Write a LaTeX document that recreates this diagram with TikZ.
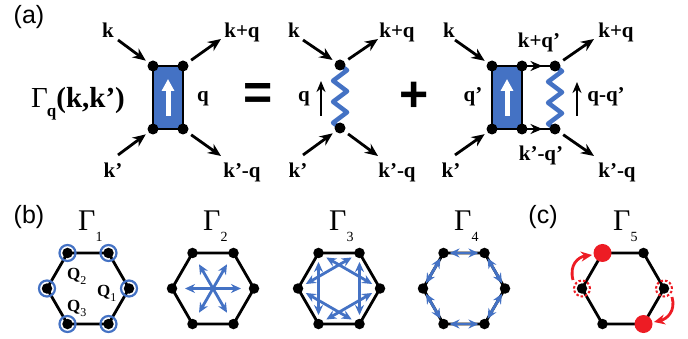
\documentclass[tikz,border=0pt]{standalone}
\usepackage{fontspec}
\setmainfont{Liberation Serif}
\newfontfamily\sansfam{Liberation Sans}
\usetikzlibrary{arrows.meta,decorations.pathmorphing,calc}
\definecolor{myblue}{RGB}{68,114,196}
\definecolor{myred}{RGB}{237,28,36}
\tikzset{
  fdot/.style={circle,fill=black,inner sep=0pt,minimum size=11pt},
  hdot/.style={circle,fill=black,inner sep=0pt,minimum size=10.5pt},
  lbl/.style={font=\fontsize{21}{21}\selectfont\bfseries,inner sep=0pt,anchor=base},
  panel/.style={font=\sansfam\fontsize{25}{25}\selectfont,inner sep=0pt},
  opsym/.style={font=\sansfam\bfseries\fontsize{50}{50}\selectfont,inner sep=0pt},
  gam/.style={font=\fontsize{30}{30}\selectfont,inner sep=0pt,anchor=base west},
  qlbl/.style={font=\fontsize{17}{17}\selectfont,inner sep=0pt,anchor=base west},
  leg/.style={line width=2.8pt,-{Stealth[length=13pt,width=11pt]}},
  vbox/.style={fill=myblue,draw=black,line width=2.8pt},
  warr/.style={white,line width=5pt,-{Triangle[length=12pt,width=12pt]}},
  wave/.style={myblue,line width=4.5pt,line join=round,decorate,decoration={zigzag,segment length=21pt,amplitude=7pt}},
  hexline/.style={draw=black,line width=2.8pt,line join=round},
  barr/.style={myblue,line width=2.8pt,{Stealth[length=10pt,width=9pt]}-{Stealth[length=10pt,width=9pt]}},
  rarr/.style={myred,line width=2.8pt,-{Stealth[length=11pt,width=10pt]}},
  plain/.style={line width=2.8pt},
}
\begin{document}
\begin{tikzpicture}[x=1pt,y=-1pt]
\useasboundingbox (0,0) rectangle (688,339);

% ---------------- panel (a) ----------------
\node[panel] (pa) at (29,17) {(a)};
\node[font=\fontsize{29}{29}\selectfont,inner sep=0pt,anchor=base west] (gq) at (31,108)
  {Γ\kern-1pt\raisebox{-0.3em}{\fontsize{17}{17}\selectfont\bfseries q}\bfseries(k,k’)};

% left vertex box
\coordinate (L1) at (153,66); \coordinate (L2) at (183,66);
\coordinate (L3) at (153,129); \coordinate (L4) at (183,129);
\draw[vbox] (L1) rectangle (L4);
\coordinate (Lw1) at (168,116); \coordinate (Lw2) at (168,79);
\draw[warr] (Lw1) -- (Lw2);
\foreach \c in {L1,L2,L3,L4} \node[fdot] (d\c) at (\c) {};
\node[lbl] (Lk) at (108,38) {k};
\node[lbl] (Lkq) at (242,38) {k+q};
\node[lbl] (Lkp) at (113,178) {k’};
\node[lbl] (Lkpq) at (242,178) {k’-q};
\node[lbl] (Lq) at (203,102) {q};
\coordinate (La) at (118,40); \coordinate (Lb) at (221,39);
\coordinate (Lc) at (118,155); \coordinate (Ld) at (221,156);
\draw[leg,shorten >=9pt] (La) -- (L1);
\draw[leg,shorten <=10pt] (L2) -- (Lb);
\draw[leg,shorten >=9pt] (Lc) -- (L3);
\draw[leg,shorten <=10pt] (L4) -- (Ld);

\node[opsym] (eq) at (258,97) {=};

% middle: wavy interaction
\coordinate (M1) at (340,65); \coordinate (M2) at (340,128);
\draw[wave] (M1) -- (M2);
\node[fdot] (dM1) at (M1) {}; \node[fdot] (dM2) at (M2) {};
\node[lbl] (Mk) at (294,38) {k};
\node[lbl] (Mkq) at (397,38) {k+q};
\node[lbl] (Mkp) at (298,178) {k’};
\node[lbl] (Mkpq) at (397,178) {k’-q};
\node[lbl] (Mq) at (304,102) {q};
\coordinate (Mqa) at (321,116); \coordinate (Mqb) at (321,81);
\draw[plain,-{Stealth[length=11pt,width=9pt]}] (Mqa) -- (Mqb);
\coordinate (Ma) at (303,40); \coordinate (Mb) at (378,39);
\coordinate (Mc) at (303,155); \coordinate (Md) at (378,156);
\draw[leg,shorten >=9pt] (Ma) -- (M1);
\draw[leg,shorten <=10pt] (M1) -- (Mb);
\draw[leg,shorten >=9pt] (Mc) -- (M2);
\draw[leg,shorten <=10pt] (M2) -- (Md);

\node[opsym] (plus) at (414,97) {+};

% right: box + wave
\coordinate (R1) at (492,66); \coordinate (R2) at (522,66);
\coordinate (R3) at (492,129); \coordinate (R4) at (522,129);
\coordinate (R5) at (555,66); \coordinate (R6) at (555,129);
\draw[vbox] (R1) rectangle (R4);
\coordinate (Rw1) at (507,116); \coordinate (Rw2) at (507,79);
\draw[warr] (Rw1) -- (Rw2);
\draw[plain] (R2) -- (R5);
\draw[plain] (R4) -- (R6);
\draw[plain,-{Stealth[length=12pt,width=10pt]}] (R2) -- ($(R2)!0.62!(R5)$);
\draw[plain,-{Stealth[length=12pt,width=10pt]}] (R4) -- ($(R4)!0.62!(R6)$);
\draw[wave] (R5) -- (R6);
\foreach \c in {R1,R2,R3,R4,R5,R6} \node[fdot] (d\c) at (\c) {};
\node[lbl] (Rk) at (449,38) {k};
\node[lbl] (Rkq) at (616,38) {k+q};
\node[lbl] (Rkp) at (451,178) {k’};
\node[lbl] (Rkpq) at (617,178) {k’-q};
\node[lbl] (Rkqp) at (539,48) {k+q’};
\node[lbl] (Rkpqp) at (541,161) {k’-q’};
\node[lbl] (Rqp) at (473,102) {q’};
\node[lbl] (Rqq) at (606,102) {q-q’};
\coordinate (Rqa) at (577,116); \coordinate (Rqb) at (577,82);
\draw[plain,-{Stealth[length=11pt,width=9pt]}] (Rqa) -- (Rqb);
\coordinate (Ra) at (455,40); \coordinate (Rb) at (594,39);
\coordinate (Rc) at (455,155); \coordinate (Rd) at (594,156);
\draw[leg,shorten >=9pt] (Ra) -- (R1);
\draw[leg,shorten <=10pt] (R5) -- (Rb);
\draw[leg,shorten >=9pt] (Rc) -- (R3);
\draw[leg,shorten <=10pt] (R6) -- (Rd);

% ---------------- panel (b) ----------------
\node[panel] (pb) at (29,217) {(b)};
\node[panel] (pc) at (543,217) {(c)};

\foreach \n/\cx in {1/88,2/213,3/339,4/464,5/623}{
  \coordinate (C\n) at (\cx,288.5);
  \foreach \i in {0,...,5} \coordinate (H\n-\i) at ($(C\n)+(\i*60:41)$);
  \draw[hexline] (H\n-0) -- (H\n-1) -- (H\n-2) -- (H\n-3) -- (H\n-4) -- (H\n-5) -- cycle;
  \node[gam] (G\n) at (\cx-10,231) {Γ\raisebox{-0.36em}{\fontsize{14}{14}\selectfont\n}};
}

% Gamma 1: circles at vertices
\foreach \i in {0,...,5}{
  \node[hdot] (d1-\i) at (H1-\i) {};
  \draw[myblue,line width=2.2pt] (H1-\i) circle (8pt);
}
\node[qlbl] (Q2) at (67,279) {\textbf{Q}\raisebox{-0.3em}{\fontsize{12}{12}\selectfont 2}};
\node[qlbl] (Q1) at (97,296) {\textbf{Q}\raisebox{-0.3em}{\fontsize{12}{12}\selectfont 1}};
\node[qlbl] (Q3) at (67,311) {\textbf{Q}\raisebox{-0.3em}{\fontsize{12}{12}\selectfont 3}};

% Gamma 2: star of arrows
\foreach \a in {0,60,120}{
  \coordinate (S\a a) at ($(C2)+(\a:28)$);
  \coordinate (S\a b) at ($(C2)+(\a+180:28)$);
  \draw[barr] (S\a a) -- (S\a b);
}
\foreach \i in {0,...,5} \node[hdot] (d2-\i) at (H2-\i) {};

% Gamma 3: second-neighbour arrows
\foreach \i in {0,...,5}{
  \pgfmathtruncatemacro{\j}{mod(\i+2,6)}
  \draw[barr,shorten <=9pt,shorten >=9pt] (H3-\i) -- (H3-\j);
}
\foreach \i in {0,...,5} \node[hdot] (d3-\i) at (H3-\i) {};

% Gamma 4: nearest-neighbour arrows
\foreach \i in {0,...,5}{
  \pgfmathtruncatemacro{\j}{mod(\i+1,6)}
  \draw[barr,shorten <=6pt,shorten >=6pt] (H4-\i) -- (H4-\j);
}
\foreach \i in {0,...,5} \node[hdot] (d4-\i) at (H4-\i) {};

% Gamma 5
\foreach \i in {0,...,5} \node[hdot] (d5-\i) at (H5-\i) {};
\node[circle,fill=myred,inner sep=0pt,minimum size=18pt] (r1) at (H5-4) {};
\node[circle,fill=myred,inner sep=0pt,minimum size=18pt] (r2) at (H5-1) {};
\draw[myred,line width=2pt,dash pattern=on 2.5pt off 2pt] (H5-3) circle (8pt);
\draw[myred,line width=2pt,dash pattern=on 2.5pt off 2pt] (H5-0) circle (8pt);
\coordinate (A1s) at (573,280); \coordinate (A1e) at (592,255);
\coordinate (A2s) at (672,297); \coordinate (A2e) at (654,322);
\draw[rarr] (A1s) .. controls (569,265) and (578,257) .. (A1e);
\draw[rarr] (A2s) .. controls (676,311) and (667,319) .. (A2e);
\end{tikzpicture}
\end{document}
